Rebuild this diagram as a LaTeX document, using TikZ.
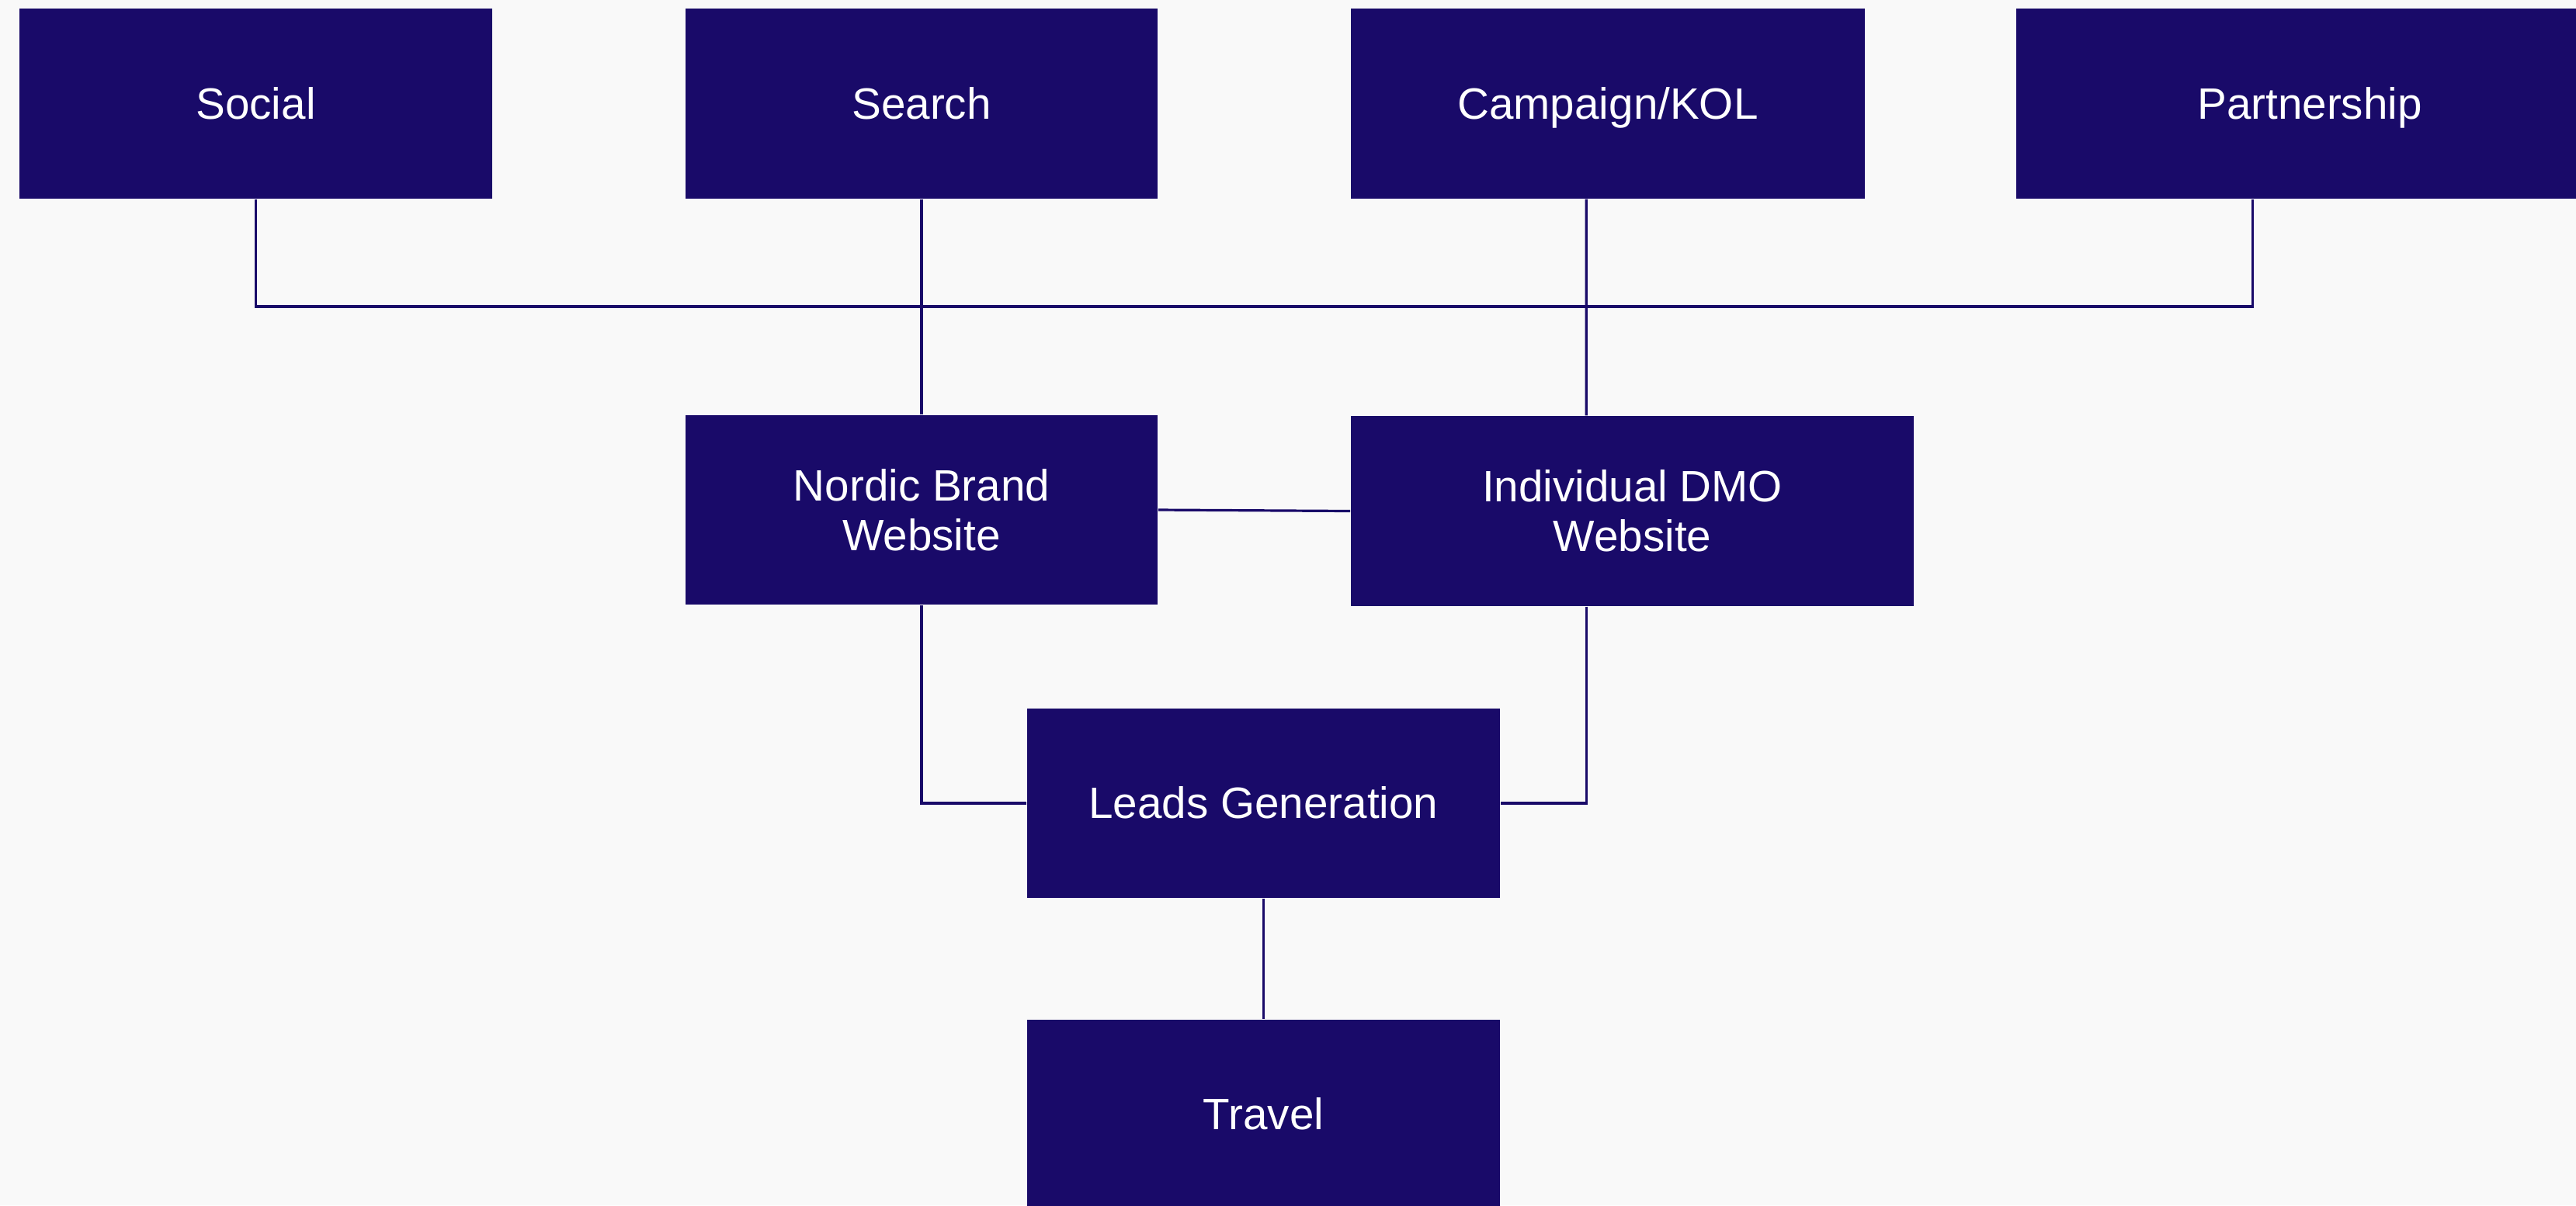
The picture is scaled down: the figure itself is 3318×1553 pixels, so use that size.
\documentclass[tikz,border=0pt]{standalone}
\usepackage{fontspec}
\setmainfont{Liberation Sans}
\definecolor{navy}{HTML}{190A69}
\definecolor{bg}{HTML}{F9F9F9}
\begin{document}
\begin{tikzpicture}[x=0.01cm,y=-0.01cm,
  box/.style={fill=navy,text=white,inner sep=0pt,minimum height=2.445cm,align=center,
    font=\fontsize{16.1pt}{18.2pt}\selectfont},
  oneline/.style={text height=0.50cm,text depth=0.11cm},
  link/.style={draw=navy,line width=0.032cm}]
\fill[bg] (0,0) rectangle (3318,1553);
\useasboundingbox (0,0) rectangle (3318,1553);
\begin{scope}
\clip (0,0) rectangle (3318,1553);
\node[box,oneline,minimum width=6.09cm] (social) at (329.5,133.5) {Social};
\node[box,oneline,minimum width=6.08cm] (search) at (1187,133.5) {Search};
\node[box,oneline,minimum width=6.62cm] (camp) at (2071,133.5) {Campaign/KOL};
\node[box,oneline,minimum width=7.56cm] (part) at (2975,133.5) {Partnership};
\node[box,minimum width=6.08cm] (nordic) at (1187,657) {Nordic Brand\\Website};
\node[box,minimum width=7.25cm] (indiv) at (2102.5,658.5) {Individual DMO\\Website};
\node[box,oneline,minimum width=6.09cm] (leads) at (1627.5,1035) {Leads Generation};
\node[box,oneline,minimum width=6.09cm] (travel) at (1627.5,1436) {Travel};
\end{scope}
\coordinate (bus) at (1187,395);
\draw[link] (social.south) |- (bus) -| ([xshift=3.05cm]part.south west);
\draw[link] (search.south) -- (nordic.north);
\draw[link] ([xshift=3.04cm]camp.south west) -- ([xshift=3.04cm]indiv.north west);
\draw[link] (nordic.east) -- (indiv.west);
\draw[link] (nordic.south) |- (leads.west);
\draw[link] ([xshift=3.04cm]indiv.south west) |- (leads.east);
\draw[link] (leads.south) -- (travel.north);
\end{tikzpicture}
\end{document}
